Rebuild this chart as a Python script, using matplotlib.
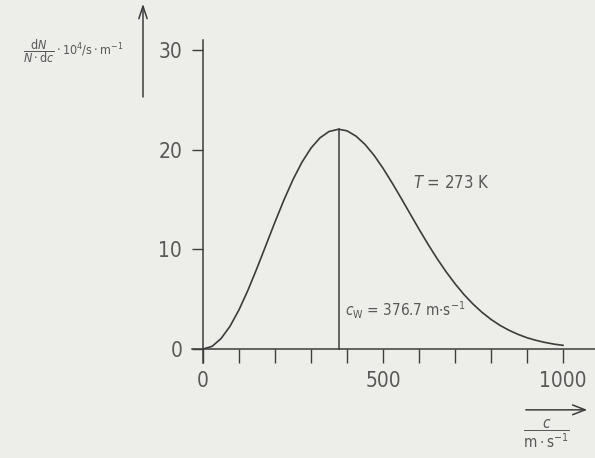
import matplotlib.pyplot as plt

# Maxwell speed distribution, O2 at 273 K
speed = [0, 25, 50, 75, 100, 125, 150, 175, 200, 225, 250, 275, 300, 325,
         350, 376.7, 400, 425, 450, 475, 500, 525, 550, 575, 600, 625, 650,
         675, 700, 725, 750, 775, 800, 825, 850, 875, 900, 925, 950, 975, 1000]
density = [0, 0.26, 1.04, 2.28, 3.93, 5.91, 8.11, 10.42, 12.74, 14.96, 16.99,
           18.74, 20.15, 21.18, 21.81, 22.04, 21.88, 21.35, 20.52, 19.43,
           18.13, 16.68, 15.15, 13.58, 12.02, 10.51, 9.08, 7.76, 6.55, 5.46,
           4.51, 3.68, 2.97, 2.37, 1.88, 1.47, 1.13, 0.87, 0.66, 0.49, 0.37]
c_w = 376.7
peak = 22.04
x_major = [0, 500, 1000]
x_minor = [100, 200, 300, 400, 600, 700, 800, 900]
y_ticks = [0, 10, 20, 30]

plt.rcParams['font.family'] = ['DejaVu Sans']
plt.rcParams['font.stretch'] = 'condensed'
plt.rcParams['mathtext.fontset'] = 'custom'
plt.rcParams['mathtext.rm'] = 'DejaVu Sans:stretch=condensed'
plt.rcParams['mathtext.it'] = 'DejaVu Sans:italic:stretch=condensed'

bg = '#ededea'
ink = '#3c3c3c'
txt = '#585858'

fig = plt.figure(figsize=(5.95, 4.58), dpi=100, facecolor=bg)
ax = fig.add_axes([0, 0, 1, 1], facecolor=bg)
ax.set_xlim(-563.9, 1088.9)
ax.set_ylim(-10.93, 35.0)

ax.plot(speed, density, color=ink, lw=1.2, solid_joinstyle='round')
ax.plot([c_w, c_w], [0, peak], color=ink, lw=1.1)

for s in ['top', 'right']:
    ax.spines[s].set_visible(False)
ax.spines['left'].set_position(('data', 0))
ax.spines['bottom'].set_position(('data', 0))
ax.spines['left'].set_bounds(-1.4, 31.0)
ax.spines['bottom'].set_bounds(-30, 1088.9)
for s in ['left', 'bottom']:
    ax.spines[s].set_color(ink)
    ax.spines[s].set_linewidth(1.1)

ax.set_xticks(x_major)
ax.set_xticks(x_minor, minor=True)
ax.set_yticks(y_ticks)
ax.tick_params(axis='x', which='both', direction='out', length=10, width=1.0,
               color=ink, labelsize=15, labelcolor=txt, pad=6)
ax.tick_params(axis='y', direction='out', length=8, width=1.0, color=ink,
               labelsize=15, labelcolor=txt, pad=7)

# axis arrows
ax.annotate('', xy=(1075, -6.1), xytext=(889, -6.1),
            arrowprops=dict(arrowstyle='->,head_length=0.9,head_width=0.35',
                            color=ink, lw=1.1))
ax.annotate('', xy=(-166.7, 34.9), xytext=(-166.7, 25.0),
            arrowprops=dict(arrowstyle='->,head_length=0.9,head_width=0.3',
                            color=ink, lw=1.1))

# labels
ax.text(955, -8.5, r'$\dfrac{c}{\mathrm{m\cdot s^{-1}}}$', fontsize=11,
        color=txt, ha='center', va='center')
ax.text(-360, 29.9, r'$\dfrac{\mathrm{d}N}{N\cdot\mathrm{d}c}\cdot10^4/\mathrm{s\cdot m^{-1}}$',
        fontsize=9, color=txt, ha='center', va='center')
ax.text(690, 16.6, r'$T$ = 273 K', fontsize=12, color=txt,
        ha='center', va='center')
ax.text(395, 3.9, r'$c_{\mathrm{W}}$ = 376.7 m$\cdot$s$^{-1}$', fontsize=11,
        color=txt, ha='left', va='center')

fig.savefig('out.png', dpi=100, facecolor=bg)
